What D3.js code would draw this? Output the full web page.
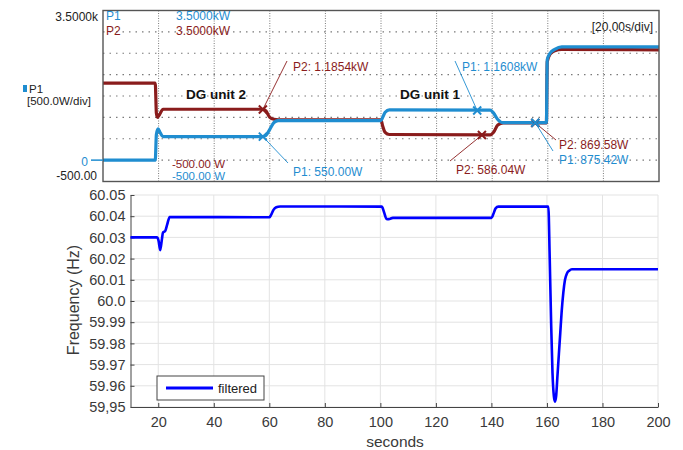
<!DOCTYPE html>
<html>
<head>
<meta charset="utf-8">
<script src="https://cdn.jsdelivr.net/npm/d3@7"></script>
<style>
  body { margin: 0; background: #fff; }
  text { font-family: "Liberation Sans", Arial, sans-serif; }
</style>
</head>
<body>
<div id="chartDiv"></div>
<script>
;(function() {

	const COLORS = {
		P1: '#1f8dd0',
		P2: '#8a1c1c',
		FREQ: '#0000ff',
		GRID: '#7a7a7a',
		TEXT: '#3a3a3a'
	};

	// ---- top panel (scope capture) ----
	var p1Time = [0, 18.8, 19.2, 19.8, 20.6, 21.6, 57.5, 58.6, 60, 61.5, 63, 100, 100.6, 101.5, 103, 139.3, 140.5, 142, 144, 159.5, 159.8, 160.8, 162.5, 165, 200];
	var p1Watts = [0, 0, 600, 730, 640, 550, 550, 575, 720, 880, 925, 925, 1000, 1120, 1175, 1170, 1100, 950, 875, 875, 2350, 2500, 2590, 2650, 2650];
	var p2Time = [0, 18.8, 19.2, 19.6, 20.3, 21.6, 57.5, 58.6, 60, 61.5, 63, 100, 100.6, 101.5, 103, 139.3, 140.5, 142, 144, 159.5, 159.8, 160.8, 162.5, 165, 200];
	var p2Watts = [1800, 1800, 1100, 1000, 1060, 1190, 1190, 1150, 1000, 955, 945, 945, 800, 650, 600, 590, 650, 820, 870, 870, 2300, 2480, 2560, 2590, 2580];

	// cursor readouts: series, time, value, label
	var cursorSeries = ['P2', 'P1', 'P1', 'P2', 'P2', 'P1'];
	var cursorTime = [57.5, 57.5, 134.6, 136.3, 155.5, 155.5];
	var cursorValue = [1185.4, 550.0, 1160.8, 586.04, 869.58, 875.42];
	var cursorLabels = ['P2: 1.1854kW', 'P1: 550.00W', 'P1: 1.1608kW', 'P2: 586.04W', 'P2: 869.58W', 'P1: 875.42W'];

	// ---- bottom panel (frequency) ----
	var freqTime = [10, 19.5, 20.1, 20.7, 21.3, 21.7, 22.5, 23.2, 24.1, 60, 60.6, 61.5, 62.5, 63.9, 100.5, 101.3, 102.2, 103, 104.5, 140, 140.7, 141.5, 142.5, 160.5, 161.0, 161.5, 162.0, 162.5, 162.9, 163.3, 163.8, 164.3, 164.8, 165.3, 165.9, 166.5, 167.2, 168, 169, 200];
	var freqHz = [60.03, 60.03, 60.0285, 60.024, 60.029, 60.0323, 60.033, 60.036, 60.0396, 60.0395, 60.0405, 60.043, 60.0442, 60.0446, 60.0445, 60.042, 60.0387, 60.0386, 60.0392, 60.0392, 60.041, 60.0437, 60.0445, 60.0445, 60.02, 59.99, 59.966, 59.955, 59.9525, 59.955, 59.965, 59.975, 59.985, 59.995, 60.004, 60.01, 60.013, 60.0143, 60.015, 60.015];
	var freqTicks = [59.95, 59.96, 59.97, 59.98, 59.99, 60.0, 60.01, 60.02, 60.03, 60.04, 60.05];
	var freqTickLabels = ['59,95', '59.96', '59.97', '59.98', '59.99', '60.0', '60.01', '60.02', '60.03', '60.04', '60.05'];
	var secTicks = [20, 40, 60, 80, 100, 120, 140, 160, 180, 200];

	var width = 683;
	var height = 450;
	var top = { left: 103, right: 659, top: 10.5, bottom: 181.5 };
	var bot = { left: 130.5, right: 658, top: 195, bottom: 407 };

	var chart;

	init();

	function init() {
		chart = d3.select("#chartDiv").append("svg")
			.attr("width", width)
			.attr("height", height);

		drawScope();
		drawFrequency();
	}

	function drawScope() {
		var x = d3.scaleLinear().domain([0, 200]).range([top.left, top.right]);
		var y = d3.scaleLinear().domain([-500, 3500]).range([top.bottom, top.top]);
		var g = chart.append("g");

		// dotted grid
		g.selectAll(".vgrid")
			.data(d3.range(20, 200, 20))
			.enter().append("line")
				.attr("x1", d => x(d)).attr("x2", d => x(d))
				.attr("y1", top.top).attr("y2", top.bottom)
				.attr("stroke", COLORS.GRID)
				.attr("stroke-width", 1)
				.attr("stroke-dasharray", "1,1.5");

		g.selectAll(".hgrid")
			.data(d3.range(0, 3500, 500))
			.enter().append("line")
				.attr("x1", top.left).attr("x2", top.right)
				.attr("y1", d => y(d)).attr("y2", d => y(d))
				.attr("stroke", COLORS.GRID)
				.attr("stroke-width", 1.2)
				.attr("stroke-dasharray", "1.5,5");

		var line = d3.line().curve(d3.curveMonotoneX);

		g.append("path")
			.attr("d", line(p2Time.map((t, i) => [x(t), y(p2Watts[i])])))
			.attr("fill", "none")
			.attr("stroke", COLORS.P2)
			.attr("stroke-width", 3.2);

		g.append("path")
			.attr("d", line(p1Time.map((t, i) => [x(t), y(p1Watts[i])])))
			.attr("fill", "none")
			.attr("stroke", COLORS.P1)
			.attr("stroke-width", 3.2);

		// frame
		g.append("rect")
			.attr("x", top.left).attr("y", top.top)
			.attr("width", top.right - top.left).attr("height", top.bottom - top.top)
			.attr("fill", "none")
			.attr("stroke", "#555")
			.attr("stroke-width", 1.4);

		// cursor readouts, label anchor and leader end in pixels
		var labelPos = [[293, 71, 287, 61], [293, 176, 288, 163], [462, 71, 455, 61], [456, 174, 450, 161], [559, 149, 556, 140], [559, 164, 553, 151]];
		cursorTime.forEach(function(t, i) {
			var c = COLORS[cursorSeries[i]];
			var cx = x(t), cy = y(cursorValue[i]);
			var p = labelPos[i];
			g.append("line")
				.attr("x1", cx).attr("y1", cy).attr("x2", p[2]).attr("y2", p[3])
				.attr("stroke", c).attr("stroke-width", 0.9);
			g.append("path")
				.attr("d", "M" + (cx - 4) + "," + (cy - 4) + "L" + (cx + 4) + "," + (cy + 4) + "M" + (cx - 4) + "," + (cy + 4) + "L" + (cx + 4) + "," + (cy - 4))
				.attr("stroke", c).attr("stroke-width", 2);
			g.append("text")
				.attr("x", p[0]).attr("y", p[1])
				.style("font-size", "12px")
				.attr("fill", c)
				.text(cursorLabels[i]);
		});

		// event labels
		g.append("text").attr("x", 186).attr("y", 99)
			.style("font-size", "13.5px").style("font-weight", "bold")
			.attr("fill", "#111").text("DG unit 2");
		g.append("text").attr("x", 400).attr("y", 99)
			.style("font-size", "13.5px").style("font-weight", "bold")
			.attr("fill", "#111").text("DG unit 1");

		// channel readouts
		var small = [
			[106, 19.5, "P1", COLORS.P1, "start", 12],
			[106, 35, "P2", COLORS.P2, "start", 12],
			[176, 19.5, "3.5000kW", COLORS.P1, "start", 12],
			[176, 34.5, "3.5000kW", COLORS.P2, "start", 12],
			[653, 31, "[20.00s/div]", "#222", "end", 12],
			[172, 168, "-500.00 W", COLORS.P2, "start", 11.5],
			[172, 180, "-500.00 W", COLORS.P1, "start", 11.5],
			[98, 20.5, "3.5000k", "#222", "end", 12],
			[88, 166, "0", COLORS.P1, "end", 12],
			[97, 180, "-500.00", "#222", "end", 12],
			[29, 93, "P1", "#222", "start", 11.5],
			[27, 105, "[500.0W/div]", "#222", "start", 11.5]
		];
		g.selectAll(".readout")
			.data(small)
			.enter().append("text")
				.attr("x", d => d[0]).attr("y", d => d[1])
				.attr("text-anchor", d => d[4])
				.attr("fill", d => d[3])
				.style("font-size", d => d[5] + "px")
				.text(d => d[2]);

		g.append("rect").attr("x", 23).attr("y", 85).attr("width", 4).attr("height", 7).attr("fill", COLORS.P1);
		g.append("line").attr("x1", 91).attr("x2", top.left).attr("y1", y(0)).attr("y2", y(0))
			.attr("stroke", COLORS.P1).attr("stroke-width", 1.5);
	}

	function drawFrequency() {
		var x = d3.scaleLinear().domain([10, 200]).range([bot.left, bot.right]);
		var y = d3.scaleLinear().domain([59.95, 60.05]).range([bot.bottom, bot.top]);
		var g = chart.append("g");

		g.selectAll(".fvgrid")
			.data(secTicks)
			.enter().append("line")
				.attr("x1", d => x(d)).attr("x2", d => x(d))
				.attr("y1", bot.top).attr("y2", bot.bottom)
				.attr("stroke", "#e3e3e3");
		g.selectAll(".fhgrid")
			.data(freqTicks)
			.enter().append("line")
				.attr("x1", bot.left).attr("x2", bot.right)
				.attr("y1", d => y(d)).attr("y2", d => y(d))
				.attr("stroke", "#e3e3e3");

		var xAxis = d3.axisBottom(x).tickValues(secTicks).tickSize(-4).tickSizeOuter(0).tickPadding(10);
		var yAxis = d3.axisLeft(y).tickValues(freqTicks).tickSize(-4).tickSizeOuter(0).tickPadding(5)
			.tickFormat((d, i) => freqTickLabels[i]);

		var xa = g.append("g").attr("transform", "translate(0," + bot.bottom + ")").call(xAxis);
		var ya = g.append("g").attr("transform", "translate(" + bot.left + ",0)").call(yAxis);
		[xa, ya].forEach(function(a) {
			a.select(".domain").attr("stroke", "#444");
			a.selectAll(".tick line").attr("stroke", "#444");
			a.selectAll(".tick text")
				.attr("fill", COLORS.TEXT)
				.style("font-size", "14.5px")
				.style("font-family", "'Liberation Sans', Arial, sans-serif");
		});

		g.append("path")
			.attr("d", d3.line().curve(d3.curveMonotoneX)(freqTime.map((t, i) => [x(t), y(freqHz[i])])))
			.attr("fill", "none")
			.attr("stroke", COLORS.FREQ)
			.attr("stroke-width", 2.6);

		// axis titles
		g.append("text")
			.attr("text-anchor", "middle")
			.attr("transform", "translate(395,447)")
			.attr("fill", COLORS.TEXT)
			.style("font-size", "15.5px")
			.text("seconds");
		g.append("text")
			.attr("text-anchor", "middle")
			.attr("transform", "translate(79,300) rotate(-90)")
			.attr("fill", COLORS.TEXT)
			.style("font-size", "16px")
			.text("Frequency (Hz)");

		// legend
		g.append("rect")
			.attr("x", 157).attr("y", 376).attr("width", 107).attr("height", 24)
			.attr("fill", "#fff").attr("stroke", "#444").attr("stroke-width", 1);
		g.append("line")
			.attr("x1", 166).attr("x2", 213).attr("y1", 388).attr("y2", 388)
			.attr("stroke", COLORS.FREQ).attr("stroke-width", 3);
		g.append("text")
			.attr("x", 218).attr("y", 393)
			.attr("fill", "#222")
			.style("font-size", "13px")
			.text("filtered");
	}
})();
</script>
</body>
</html>
